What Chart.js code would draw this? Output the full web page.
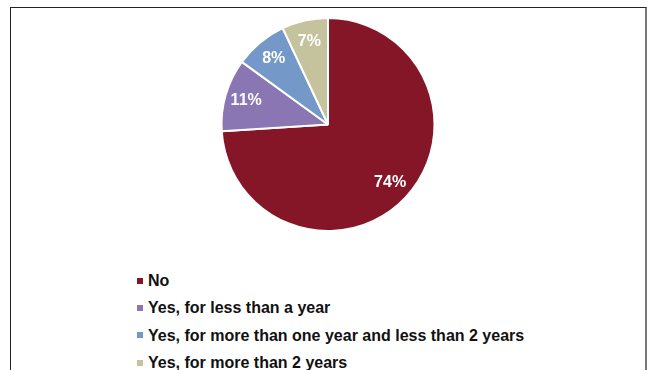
<!DOCTYPE html>
<html>
<head>
<meta charset="utf-8">
<script src="https://cdn.jsdelivr.net/npm/chart.js@4/dist/chart.umd.min.js"></script>
<style>
  body { margin: 0; background: #fff; width: 650px; height: 370px; overflow: hidden; position: relative; }
  #frame {
    position: absolute; left: 10px; top: 7px; width: 634px; height: 380px;
    border-top: 1px solid #222; border-left: 1px solid #222; border-right: 2px solid #777;
  }
  #chartBox { position: absolute; left: 0; top: 0; width: 634px; height: 233px; }
  #legend {
    position: absolute; left: 126px; top: 259px; margin: 0; padding: 0; list-style: none;
    font: bold 16px Arial, "Liberation Sans", sans-serif; line-height: 27.3px; color: #111;
  }
  #legend li { display: flex; align-items: center; white-space: nowrap; height: 27.3px; }
  #legend span.sw { display: inline-block; width: 6px; height: 6px; margin-right: 5px; margin-top: 0px; }
</style>
</head>
<body>
<div id="frame">
  <div id="chartBox"><canvas id="myChart"></canvas></div>
  <ul id="legend"></ul>
</div>
<script>
const categories = [
  "No",
  "Yes, for less than a year",
  "Yes, for more than one year and less than 2 years",
  "Yes, for more than 2 years",
];
const shares = [74, 11, 8, 7];
const colors = ["#851627", "#8a76b2", "#7499c8", "#c5c39e"];

// draws the % labels inside each slice
const sliceLabels = {
  id: "sliceLabels",
  afterDatasetsDraw(chart) {
    const ctx = chart.ctx;
    const meta = chart.getDatasetMeta(0);
    ctx.save();
    ctx.font = "bold 16px Arial, 'Liberation Sans', sans-serif";
    ctx.fillStyle = "#fff";
    ctx.textAlign = "center";
    ctx.textBaseline = "middle";
    meta.data.forEach((arc, i) => {
      const p = arc.getProps(["x", "y", "startAngle", "endAngle", "outerRadius"], true);
      const mid = (p.startAngle + p.endAngle) / 2;
      const r = p.outerRadius * 0.8;
      ctx.fillText(shares[i] + "%", p.x + Math.cos(mid) * r, p.y + Math.sin(mid) * r);
    });
    ctx.restore();
  },
};

const ctx = document.getElementById("myChart");
const myChart = new Chart(ctx, {
  type: "pie",
  data: {
    labels: categories,
    datasets: [
      {
        data: shares,
        backgroundColor: colors,
        borderColor: "#fff",
        borderWidth: 2,
      },
    ],
  },
  options: {
    responsive: true,
    maintainAspectRatio: false,
    animation: false,
    layout: { padding: { top: 9, bottom: 9 } },
    plugins: {
      legend: { display: false },
      tooltip: { enabled: false },
    },
  },
  plugins: [sliceLabels],
});

const legend = document.getElementById("legend");
categories.forEach((name, i) => {
  const li = document.createElement("li");
  li.innerHTML = '<span class="sw" style="background:' + colors[i] + '"></span>' + name;
  legend.appendChild(li);
});
</script>
</body>
</html>
